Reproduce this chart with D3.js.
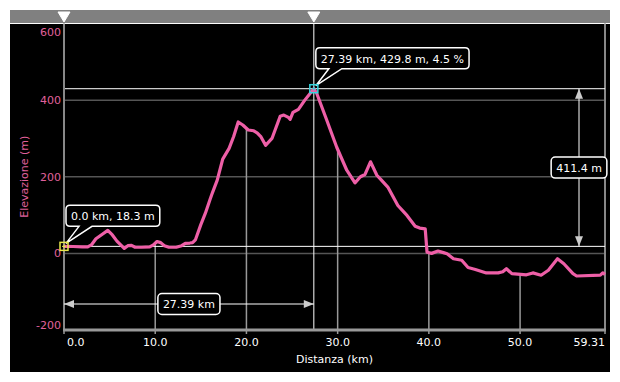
<!DOCTYPE html>
<html>
<head>
<meta charset="utf-8">
<script src="https://cdn.jsdelivr.net/npm/d3@7"></script>
<style>
  body { margin: 0; background: #fff; }
  text { font-family: "DejaVu Sans", Verdana, sans-serif; font-size: 11px; }
</style>
</head>
<body>
<div class="chart"></div>
<script>
// Profile data (km, m)
const distKm = [0, 1.0, 2.0, 2.6, 3.0, 3.5, 4.2, 4.8, 5.3, 5.8, 6.3, 6.6, 7.0, 7.4, 7.8, 8.5, 9.4, 9.8, 10.2, 10.6,
    11.0, 11.5, 12.3, 12.9, 13.3, 13.8, 14.1, 14.4, 15.0, 15.5, 16.0, 16.3, 16.8, 17.4, 18.1, 18.6, 19.1, 19.6, 20.2, 20.8,
    21.2, 21.6, 22.1, 22.8, 23.7, 24.1, 24.6, 24.8, 25.1, 25.7, 26.4, 27.0, 27.39, 27.7, 28.8, 29.9, 31.0, 31.9, 32.5, 33.0,
    33.6, 34.3, 34.8, 35.5, 36.6, 37.6, 38.5, 39.0, 39.6, 39.8, 40.3, 41.0, 41.6, 42.0, 42.7, 43.6, 44.3, 45.1, 46.3, 47.6,
    48.1, 48.5, 49.1, 50.7, 51.4, 52.3, 53.1, 54.1, 54.8, 55.8, 56.2, 58.8, 59.06, 59.31];
const elevM = [18.3, 18, 17, 17, 22, 38, 50, 60, 48, 32, 20, 13, 20, 21, 16, 16, 17, 22, 31, 28,
    20, 16, 16, 20, 26, 27, 28, 35, 75, 105, 140, 160, 191, 246, 274, 305, 343, 335, 322, 320,
    314, 304, 282, 300, 358, 361, 355, 350, 368, 376, 400, 418, 429.8, 418, 348, 277, 217, 184, 200, 206,
    239, 204, 191, 173, 125, 99, 71, 66, 64, 3, 0, 6, 2, -1, -14, -18, -37, -42, -51, -51,
    -48, -40, -53, -56, -51, -57, -44, -14, -27, -53, -59, -57, -51, -55];

const xTicks = [0, 10, 20, 30, 40, 50, 59.31];
const yTicks = [-200, 0, 200, 400, 600];

// markers
const startKm = 0.0, startElev = 18.3;
const peakKm = 27.39, peakElev = 429.8, peakGrade = 4.5;
const climbM = 411.4;   // as shown by the tool (unrounded values)

const W = 620, H = 382;
const frame = { left: 10, top: 10, right: 610, bottom: 372 };
const plot = { left: 64, right: 605, top: 23.5, bottom: 330 };
const pink = '#ee5fa7';
const pinkText = '#e0609c';

const x = d3.scaleLinear().domain([0, 59.31]).range([plot.left, plot.right]);
const y = d3.scaleLinear().domain([-200, 600]).range([plot.bottom, plot.top]);

const profile = distKm.map((d, i) => [d, elevM[i]]);
function elevAt(km) {
    const i = d3.bisectLeft(distKm, km);
    if (i <= 0) return elevM[0];
    if (i >= distKm.length) return elevM[elevM.length - 1];
    const t = (km - distKm[i - 1]) / (distKm[i] - distKm[i - 1]);
    return elevM[i - 1] + t * (elevM[i] - elevM[i - 1]);
}

const svg = d3.select('.chart').append('svg')
    .attr('width', W).attr('height', H);

// frame
svg.append('rect')
    .attr('x', frame.left).attr('y', frame.top)
    .attr('width', frame.right - frame.left).attr('height', frame.bottom - frame.top)
    .attr('fill', '#000');

// top bar
svg.append('rect')
    .attr('x', frame.left).attr('y', frame.top)
    .attr('width', frame.right - frame.left).attr('height', plot.top - frame.top)
    .attr('fill', '#808080');
svg.append('line')
    .attr('x1', frame.left).attr('x2', frame.right)
    .attr('y1', plot.top).attr('y2', plot.top)
    .attr('stroke', '#fff').attr('stroke-width', 1);

// horizontal grid
svg.selectAll('.hgrid')
    .data(yTicks.filter(d => d > -200 && d < 600))
    .enter().append('line')
    .attr('class', 'hgrid')
    .attr('x1', plot.left).attr('x2', plot.right)
    .attr('y1', d => y(d)).attr('y2', d => y(d))
    .attr('stroke', '#555').attr('stroke-width', 1.5);

// vertical grid, from curve down
svg.selectAll('.vgrid')
    .data(xTicks.filter(d => d > 0 && d < 59.31))
    .enter().append('line')
    .attr('class', 'vgrid')
    .attr('x1', d => x(d)).attr('x2', d => x(d))
    .attr('y1', d => y(elevAt(d))).attr('y2', plot.bottom)
    .attr('stroke', '#999').attr('stroke-width', 1.5);

// right border
svg.append('line')
    .attr('x1', plot.right).attr('x2', plot.right)
    .attr('y1', plot.top).attr('y2', plot.bottom)
    .attr('stroke', '#888').attr('stroke-width', 2);

// reference lines (white)
[startElev, peakElev].forEach(v => {
    svg.append('line')
        .attr('x1', plot.left).attr('x2', plot.right)
        .attr('y1', y(v)).attr('y2', y(v))
        .attr('stroke', '#fff').attr('stroke-width', 1);
});
svg.append('line')
    .attr('x1', x(peakKm)).attr('x2', x(peakKm))
    .attr('y1', plot.top).attr('y2', plot.bottom)
    .attr('stroke', '#fff').attr('stroke-width', 1);

// axes
svg.append('line')
    .attr('x1', plot.left).attr('x2', plot.left)
    .attr('y1', plot.top).attr('y2', plot.bottom)
    .attr('stroke', '#888').attr('stroke-width', 2);
svg.append('line')
    .attr('x1', plot.left - 1).attr('x2', plot.right + 1)
    .attr('y1', plot.bottom).attr('y2', plot.bottom)
    .attr('stroke', '#999').attr('stroke-width', 3);
svg.selectAll('.xtick')
    .data(xTicks)
    .enter().append('line')
    .attr('x1', d => x(d)).attr('x2', d => x(d))
    .attr('y1', plot.bottom).attr('y2', plot.bottom + 4)
    .attr('stroke', '#999').attr('stroke-width', 1.5);

svg.selectAll('.xlabel')
    .data(xTicks)
    .enter().append('text')
    .attr('x', (d, i) => x(d) + (i === 0 ? 3 : 0))
    .attr('y', plot.bottom + 16)
    .attr('text-anchor', (d, i) => i === 0 ? 'start' : (i === xTicks.length - 1 ? 'end' : 'middle'))
    .attr('fill', '#fff')
    .text(d => d === 59.31 ? '59.31' : d.toFixed(1));

svg.selectAll('.ylabel')
    .data(yTicks)
    .enter().append('text')
    .attr('x', plot.left - 3)
    .attr('y', d => Math.max(plot.top + 12, Math.min(plot.bottom - 1, y(d) + 4)))
    .attr('text-anchor', 'end')
    .attr('fill', pinkText)
    .text(d => d);

svg.append('text')
    .attr('x', (plot.left + plot.right) / 2)
    .attr('y', 363)
    .attr('text-anchor', 'middle')
    .attr('fill', '#fff')
    .text('Distanza (km)');

svg.append('text')
    .attr('transform', `translate(28, ${(plot.top + plot.bottom) / 2}) rotate(-90)`)
    .attr('text-anchor', 'middle')
    .attr('fill', pinkText)
    .text('Elevazione (m)');

// profile line
const line = d3.line().x(d => x(d[0])).y(d => y(d[1]));
svg.append('path')
    .datum(profile)
    .attr('d', line)
    .attr('fill', 'none')
    .attr('stroke', pink)
    .attr('stroke-width', 3.2)
    .attr('stroke-linejoin', 'round');

// top slider triangles
[startKm, peakKm].forEach(k => {
    const cx = x(k);
    svg.append('path')
        .attr('d', `M${cx - 6},12 L${cx + 6},12 L${cx},22 Z`)
        .attr('fill', '#fff')
        .attr('stroke', '#fff').attr('stroke-width', 1).attr('stroke-linejoin', 'round');
});

// measure arrows
function arrowHead(px, py, dir) {
    const L = 10, w = 4;
    let p;
    if (dir === 'up') p = [[px, py], [px - w, py + L], [px + w, py + L]];
    if (dir === 'down') p = [[px, py], [px - w, py - L], [px + w, py - L]];
    if (dir === 'left') p = [[px, py], [px + L, py - w], [px + L, py + w]];
    if (dir === 'right') p = [[px, py], [px - L, py - w], [px - L, py + w]];
    svg.append('path').attr('d', 'M' + p.join('L') + 'Z').attr('fill', '#ccc');
}
function labelBox(cx, cy, txt) {
    const g = svg.append('g');
    const t = g.append('text')
        .attr('x', cx).attr('y', cy + 4)
        .attr('text-anchor', 'middle')
        .attr('fill', '#fff')
        .text(txt);
    const w = t.node().getComputedTextLength() + 10;
    g.insert('rect', 'text')
        .attr('x', cx - w / 2).attr('y', cy - 10.5)
        .attr('width', w).attr('height', 21)
        .attr('rx', 4)
        .attr('fill', '#000').attr('stroke', '#fff').attr('stroke-width', 1.5);
}

const vx = plot.right - 26;
svg.append('line')
    .attr('x1', vx).attr('x2', vx)
    .attr('y1', y(peakElev)).attr('y2', y(startElev))
    .attr('stroke', '#fff').attr('stroke-width', 1);
arrowHead(vx, y(peakElev), 'up');
arrowHead(vx, y(startElev), 'down');
labelBox(vx, (y(peakElev) + y(startElev)) / 2, climbM.toFixed(1) + ' m');

const hy = plot.bottom - 26;
svg.append('line')
    .attr('x1', x(startKm)).attr('x2', x(peakKm))
    .attr('y1', hy).attr('y2', hy)
    .attr('stroke', '#fff').attr('stroke-width', 1);
arrowHead(x(startKm), hy, 'left');
arrowHead(x(peakKm), hy, 'right');
labelBox((x(startKm) + x(peakKm)) / 2, hy, (peakKm - startKm).toFixed(2) + ' km');

// callouts
function callout(px, py, txt, color) {
    const g = svg.append('g');
    const bx = px + 2, by = py - 41, h = 21;
    const t = g.append('text')
        .attr('x', bx + 5).attr('y', by + 15)
        .attr('fill', '#fff')
        .text(txt);
    const w = t.node().getComputedTextLength() + 10;
    const r = 4, b1 = bx + 13, b2 = bx + 26;
    const d = `M${bx + r},${by} H${bx + w - r} Q${bx + w},${by} ${bx + w},${by + r}` +
        ` V${by + h - r} Q${bx + w},${by + h} ${bx + w - r},${by + h}` +
        ` H${b2} L${px + 2},${py - 3} L${b1},${by + h}` +
        ` H${bx + r} Q${bx},${by + h} ${bx},${by + h - r} V${by + r} Q${bx},${by} ${bx + r},${by} Z`;
    g.insert('path', 'text')
        .attr('d', d)
        .attr('fill', '#000').attr('stroke', '#fff').attr('stroke-width', 1.5);
    // marker
    g.append('rect')
        .attr('x', px - 4).attr('y', py - 4).attr('width', 8).attr('height', 8)
        .attr('fill', 'none').attr('stroke', color).attr('stroke-width', 1.5);
    g.append('path')
        .attr('d', `M${px - 2},${py} H${px + 2} M${px},${py - 2} V${py + 2}`)
        .attr('stroke', color).attr('stroke-width', 1);
}

callout(x(peakKm), y(peakElev),
    `${peakKm.toFixed(2)} km, ${peakElev.toFixed(1)} m, ${peakGrade.toFixed(1)} %`, '#33d6e0');
callout(x(startKm), y(startElev),
    `${startKm.toFixed(1)} km, ${startElev.toFixed(1)} m`, '#e6e64a');
</script>
</body>
</html>
